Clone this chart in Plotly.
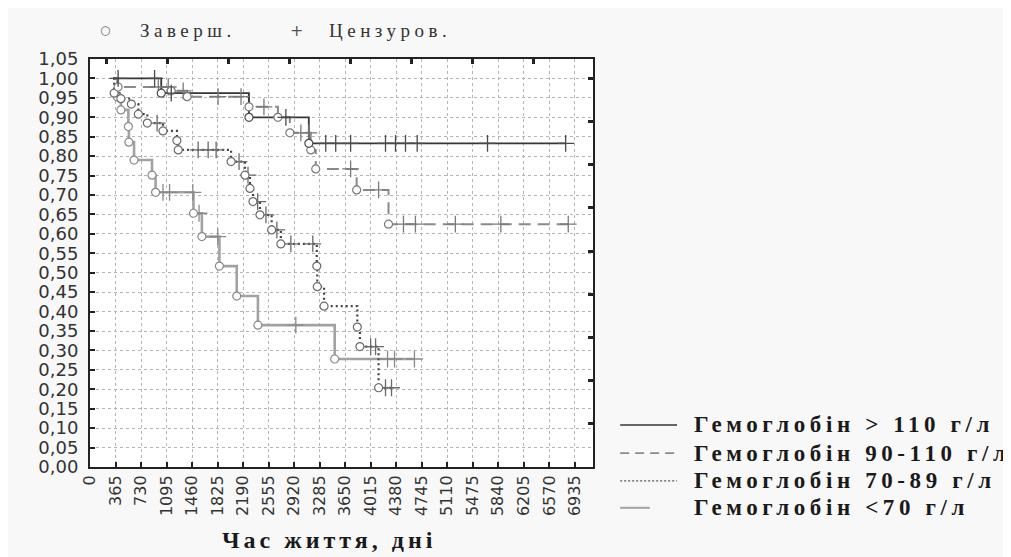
import plotly.graph_objects as go

# ---------------- data ----------------
START_TIME = 335

# Гемоглобін > 110 г/л
g1_time = [402, 924, 1019, 1162, 2274, 2802, 3130, 3372, 3515, 3728, 4227, 4370, 4513, 4680, 5686, 6804]
g1_surv = [1.0, 1.0, 0.962, 0.962, 0.900, 0.900, 0.833, 0.833, 0.833, 0.833, 0.833, 0.833, 0.833, 0.833, 0.833, 0.833]
g1_event = [0, 0, 1, 0, 1, 0, 1, 0, 0, 0, 0, 0, 0, 0, 0, 0]

# Гемоглобін 90-110 г/л
g2_time = [402, 977, 1119, 1162, 1333, 1390, 1832, 2160, 2274, 2488, 2688, 2859, 3016, 3130, 3158, 3229,
           3728, 3814, 4128, 4270, 4484, 4655, 5226, 5877, 6841]
g2_surv = [0.978, 0.978, 0.978, 0.968, 0.968, 0.953, 0.953, 0.953, 0.927, 0.927, 0.900, 0.860, 0.860, 0.860,
           0.816, 0.767, 0.767, 0.713, 0.713, 0.625, 0.625, 0.625, 0.625, 0.625, 0.625]
g2_event = [1, 0, 0, 1, 0, 1, 0, 0, 1, 0, 1, 1, 0, 0, 1, 1, 0, 1, 0, 1, 0, 0, 0, 0, 0]

# Гемоглобін 70-89 г/л
g3_time = [345, 442, 592, 692, 820, 960, 1044, 1243, 1262, 1547, 1690, 1804, 2018, 2132, 2217, 2260, 2288,
           2331, 2398, 2431, 2517, 2598, 2673, 2730, 2873, 3187, 3244, 3251, 3348, 3824, 3861, 4014, 4085,
           4128, 4227, 4313]
g3_surv = [0.962, 0.948, 0.934, 0.908, 0.885, 0.885, 0.865, 0.840, 0.816, 0.816, 0.816, 0.816, 0.786, 0.786,
           0.751, 0.751, 0.717, 0.683, 0.683, 0.649, 0.649, 0.610, 0.610, 0.574, 0.574, 0.574, 0.517, 0.464,
           0.414, 0.360, 0.310, 0.310, 0.310, 0.204, 0.204, 0.204]
g3_event = [1, 1, 1, 1, 1, 0, 1, 1, 1, 0, 0, 0, 1, 0, 1, 0, 1, 1, 0, 1, 0, 1, 0, 1, 0, 0, 1, 1, 1, 1, 1, 0, 0,
            1, 0, 0]

# Гемоглобін <70 г/л
g4_time = [392, 442, 549, 556, 630, 887, 938, 1044, 1138, 1471, 1480, 1560, 1600, 1828, 1851, 2099, 2402,
           2944, 3500, 4256, 4356, 4641]
g4_surv = [0.952, 0.919, 0.876, 0.836, 0.790, 0.751, 0.707, 0.707, 0.707, 0.707, 0.653, 0.653, 0.593, 0.593,
           0.517, 0.440, 0.365, 0.365, 0.278, 0.278, 0.278, 0.278]
g4_event = [1, 1, 1, 1, 1, 1, 1, 0, 0, 0, 1, 0, 1, 0, 1, 1, 1, 0, 1, 0, 0, 0]

group_names = ["Гемоглобін &gt; 110 г/л", "Гемоглобін 90-110 г/л", "Гемоглобін 70-89 г/л", "Гемоглобін &lt;70 г/л"]

x_tick_vals = [0, 365, 730, 1095, 1460, 1825, 2190, 2555, 2920, 3285, 3650, 4015, 4380, 4745, 5110, 5475,
               5840, 6205, 6570, 6935]
x_tick_text = ["0", "365", "730", "1095", "1460", "1825", "2190", "2555", "2920", "3285", "3650", "4015",
               "4380", "4745", "5110", "5475", "5840", "6205", "6570", "6935"]
y_tick_vals = [0.0, 0.05, 0.10, 0.15, 0.20, 0.25, 0.30, 0.35, 0.40, 0.45, 0.50, 0.55, 0.60, 0.65, 0.70,
               0.75, 0.80, 0.85, 0.90, 0.95, 1.00, 1.05]
y_tick_text = ["0,00", "0,05", "0,10", "0,15", "0,20", "0,25", "0,30", "0,35", "0,40", "0,45", "0,50",
               "0,55", "0,60", "0,65", "0,70", "0,75", "0,80", "0,85", "0,90", "0,95", "1,00", "1,05"]
top_tick_vals = [235, 1107, 1979, 2851, 3723, 4595, 5467, 6339]
right_tick_vals = [1/9, 2/9, 3/9, 4/9, 5/9, 6/9, 7/9, 8/9, 1.0]

x_title = "Час життя, дні"
legend_top = ["Заверш.", "Цензуров."]

# ---------------- styles ----------------
styles = [
    dict(color="#363636", width=1.8, dash="solid", mk="#4a4a4a"),
    dict(color="#8a8a8a", width=2.0, dash="12px,7px", mk="#7a7a7a"),
    dict(color="#444444", width=2.2, dash="2px,3px", mk="#6a6a6a"),
    dict(color="#a2a2a2", width=2.6, dash="solid", mk="#8a8a8a"),
]
groups = [(g1_time, g1_surv, g1_event), (g2_time, g2_surv, g2_event),
          (g3_time, g3_surv, g3_event), (g4_time, g4_surv, g4_event)]

fig = go.Figure()
for idx in [3, 2, 1, 0]:
    t, s, e = groups[idx]
    st = styles[idx]
    fig.add_trace(go.Scatter(x=[START_TIME] + t, y=[1.0] + s, mode="lines", line_shape="hv",
                             line=dict(color=st["color"], width=st["width"], dash=st["dash"]),
                             showlegend=False, hoverinfo="skip"))
for idx in [3, 2, 1, 0]:
    t, s, e = groups[idx]
    st = styles[idx]
    fig.add_trace(go.Scatter(x=[a for a, f in zip(t, e) if f == 0], y=[b for b, f in zip(s, e) if f == 0],
                             mode="markers",
                             marker=dict(symbol="cross-thin", size=12, line=dict(color=st["mk"], width=1.3)),
                             showlegend=False, hoverinfo="skip"))
    fig.add_trace(go.Scatter(x=[a for a, f in zip(t, e) if f == 1], y=[b for b, f in zip(s, e) if f == 1],
                             mode="markers",
                             marker=dict(symbol="circle", size=8, color="white",
                                         line=dict(color=st["mk"], width=1.2)),
                             showlegend=False, hoverinfo="skip"))

# dummy trace to hold the mirrored tick axes
fig.add_trace(go.Scatter(x=[None], y=[None], xaxis="x2", yaxis="y2", showlegend=False, hoverinfo="skip"))

XR = [0, 7195]
YR = [0, 1.05]

fig.update_layout(
    width=1011, height=557,
    margin=dict(l=82, r=426, t=51, b=98),
    paper_bgcolor="#f8f8f8",
    plot_bgcolor="white",
    showlegend=False,
    font=dict(family="DejaVu Sans", color="#222"),
    xaxis=dict(range=XR, tickmode="array", tickvals=x_tick_vals, ticktext=x_tick_text, tickangle=-90,
               tickfont=dict(family="DejaVu Sans", size=16, color="#333"),
               ticks="inside", ticklen=5, tickwidth=2, tickcolor="#222",
               showline=True, linecolor="#222", linewidth=2, mirror=True,
               showgrid=True, gridcolor="#b5b5b5", griddash="dot", gridwidth=1, zeroline=False),
    yaxis=dict(range=YR, tickmode="array", tickvals=y_tick_vals, ticktext=y_tick_text,
               tickfont=dict(family="DejaVu Sans", size=18, color="#333"),
               ticks="inside", ticklen=5, tickwidth=1.5, tickcolor="#222", ticklabelstandoff=6,
               showline=True, linecolor="#222", linewidth=2, mirror=True,
               showgrid=True, gridcolor="#b5b5b5", griddash="dot", gridwidth=1, zeroline=False),
    xaxis2=dict(range=XR, overlaying="x", side="top", tickmode="array", tickvals=top_tick_vals,
                ticks="inside", ticklen=5, tickwidth=2.5, tickcolor="#222", showticklabels=False,
                showgrid=False, showline=False, zeroline=False),
    yaxis2=dict(range=YR, overlaying="y", side="right", tickmode="array", tickvals=right_tick_vals,
                ticks="inside", ticklen=5, tickwidth=2.5, tickcolor="#222", showticklabels=False,
                showgrid=False, showline=False, zeroline=False),
)

# bottom-right legend
shapes = []
leg_rows = [0.103, 0.034, -0.034, -0.100]
leg_x0 = 1.054
leg_x1 = [1.167, 1.167, 1.167, 1.113]
leg_line = [dict(color="#363636", width=1.6, dash="solid"),
            dict(color="#8a8a8a", width=1.6, dash="9px,6px"),
            dict(color="#555555", width=1.2, dash="2px,2px"),
            dict(color="#a2a2a2", width=2.0, dash="solid")]
for r, x1, ln in zip(leg_rows, leg_x1, leg_line):
    shapes.append(dict(type="line", xref="paper", yref="paper", x0=leg_x0, x1=x1, y0=r, y1=r, line=ln))
fig.update_layout(shapes=shapes)

ann = []
for r, name in zip(leg_rows, group_names):
    ann.append(dict(xref="paper", yref="paper", x=1.197, y=r, xanchor="left", yanchor="middle",
                    showarrow=False,
                    text='<b><span style="letter-spacing:4.6px">' + name + '</span></b>',
                    font=dict(family="Liberation Serif", size=23, color="#1a1a1a")))

# top legend
ann.append(dict(xref="paper", yref="paper", x=0.030, y=1.071, xanchor="center", yanchor="middle",
                showarrow=False, text="○", font=dict(family="DejaVu Sans", size=12, color="#666")))
ann.append(dict(xref="paper", yref="paper", x=0.095, y=1.071, xanchor="left", yanchor="middle",
                showarrow=False, text='<span style="letter-spacing:4.5px">' + legend_top[0] + '</span>',
                font=dict(family="Liberation Serif", size=19, color="#333")))
ann.append(dict(xref="paper", yref="paper", x=0.411, y=1.071, xanchor="center", yanchor="middle",
                showarrow=False, text="+", font=dict(family="DejaVu Sans", size=16, color="#555")))
ann.append(dict(xref="paper", yref="paper", x=0.471, y=1.071, xanchor="left", yanchor="middle",
                showarrow=False, text='<span style="letter-spacing:4.5px">' + legend_top[1] + '</span>',
                font=dict(family="Liberation Serif", size=19, color="#333")))

# x-axis title
ann.append(dict(xref="paper", yref="paper", x=0.475, y=-0.179, xanchor="center", yanchor="middle",
                showarrow=False, text='<b><span style="letter-spacing:4px">' + x_title + '</span></b>',
                font=dict(family="Liberation Serif", size=24, color="#1a1a1a")))
fig.update_layout(annotations=ann)

fig.write_html("out.html")
